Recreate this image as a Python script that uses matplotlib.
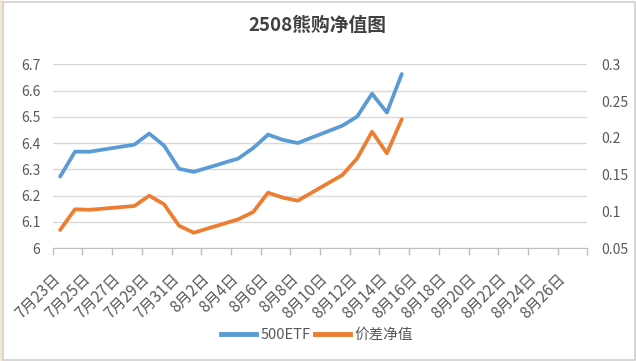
import matplotlib
matplotlib.use("Agg")
import matplotlib.pyplot as plt
import matplotlib.transforms as mtrans
from matplotlib.patches import Rectangle
from datetime import date, timedelta

plt.rcParams['font.family'] = ['Noto Sans CJK SC', 'DejaVu Sans']

# data
dates = ["2025-07-23", "2025-07-24", "2025-07-25", "2025-07-28", "2025-07-29",
         "2025-07-30", "2025-07-31", "2025-08-01", "2025-08-04", "2025-08-05",
         "2025-08-06", "2025-08-07", "2025-08-08", "2025-08-11", "2025-08-12",
         "2025-08-13", "2025-08-14", "2025-08-15"]
etf500 = [6.272, 6.367, 6.367, 6.394, 6.436, 6.390, 6.302, 6.290, 6.341, 6.381,
          6.432, 6.412, 6.400, 6.466, 6.501, 6.588, 6.516, 6.663]
spread = [0.0745, 0.1027, 0.1020, 0.1072, 0.1212, 0.1095, 0.0804, 0.0708, 0.0891,
          0.0990, 0.1253, 0.1185, 0.1144, 0.1493, 0.1720, 0.2083, 0.1789, 0.2251]

start = date(2025, 7, 23)
end = date(2025, 8, 27)
title = "2508熊购净值图"

blue = "#5B9BD5"
orange = "#ED7D31"
txt = "#595959"
grid = "#D9D9D9"

x = [(date.fromisoformat(d) - start).days for d in dates]
ndays = (end - start).days + 1

fig = plt.figure(figsize=(6.36, 3.61), dpi=100)
# chart frame and the spreadsheet strip on the left
fig.patches.append(Rectangle((0, 0), 3 / 636, 1, transform=fig.transFigure,
                             facecolor="#F3E9D6", edgecolor="none", zorder=-2))
fig.patches.append(Rectangle((3.5 / 636, 1.5 / 361), 631 / 636, 358 / 361,
                             transform=fig.transFigure, facecolor="white",
                             edgecolor="#D0D0D0", lw=1.2, zorder=-1))

ax = fig.add_axes([52.7 / 636, 1 - 248 / 361, (587.4 - 52.7) / 636, (248 - 64.3) / 361])
ax.set_facecolor("none")
ax2 = ax.twinx()

ax.plot(x, etf500, color=blue, lw=2.7, solid_capstyle="round", solid_joinstyle="round", zorder=3)
ax2.plot(x, spread, color=orange, lw=2.7, solid_capstyle="round", solid_joinstyle="round", zorder=3)

ax.set_xlim(-0.5, ndays - 0.5)
ax.set_ylim(6, 6.7)
ax2.set_ylim(0.05, 0.3)

yt = [6 + i * 0.1 for i in range(8)]
ax.set_yticks(yt)
ax.set_yticklabels(["6" if i == 0 else f"{v:.1f}" for i, v in enumerate(yt)])
yt2 = [0.05 + i * 0.05 for i in range(6)]
ax2.set_yticks(yt2)
ax2.set_yticklabels(["0.05", "0.1", "0.15", "0.2", "0.25", "0.3"])

# ticks between days, labels every second day
ax.set_xticks([k - 0.5 for k in range(0, ndays + 1, 2)])
ax.set_xticklabels([])
lab_days = list(range(0, ndays - 1, 2))
ax.set_xticks(lab_days, minor=True)
labels = []
for d in lab_days:
    dd = start + timedelta(days=d)
    labels.append(f"{dd.month}月{dd.day}日")
ax.set_xticklabels(labels, minor=True, rotation=45, ha="right", va="top",
                   fontsize=11, color=txt)
ax.tick_params(axis="x", which="minor", length=0, pad=16)
ax.tick_params(axis="x", which="major", length=5, color="#BFBFBF", width=1)
shift = mtrans.ScaledTranslation(4 / 100, 0, fig.dpi_scale_trans)
for t in ax.get_xticklabels(minor=True):
    t.set_transform(t.get_transform() + shift)

ax.grid(axis="y", color=grid, lw=1)
for a in (ax, ax2):
    for s in a.spines.values():
        s.set_visible(False)
ax.spines["bottom"].set_visible(True)
ax.spines["bottom"].set_color("#BFBFBF")
ax.tick_params(axis="y", length=0, labelsize=10, labelcolor=txt, pad=9)
ax2.tick_params(axis="y", length=0, labelsize=10, labelcolor=txt, pad=10)

fig.text(317.5 / 636, 1 - 25 / 361, title, ha="center", va="center",
         fontsize=13.5, fontweight="bold", color="#404040")

# legend
lx = ax.plot([], [], color=blue, lw=3.5, label="500ETF")[0]
ly = ax.plot([], [], color=orange, lw=3.5, label="价差净值")[0]
fig.legend(handles=[lx, ly], loc="center", bbox_to_anchor=(317 / 636, 1 - 335 / 361),
           ncol=2, frameon=False, fontsize=10.5, handlelength=2.4, handletextpad=0.3,
           columnspacing=0.3, labelcolor=txt)

fig.savefig("out.png", dpi=100, facecolor="white")
